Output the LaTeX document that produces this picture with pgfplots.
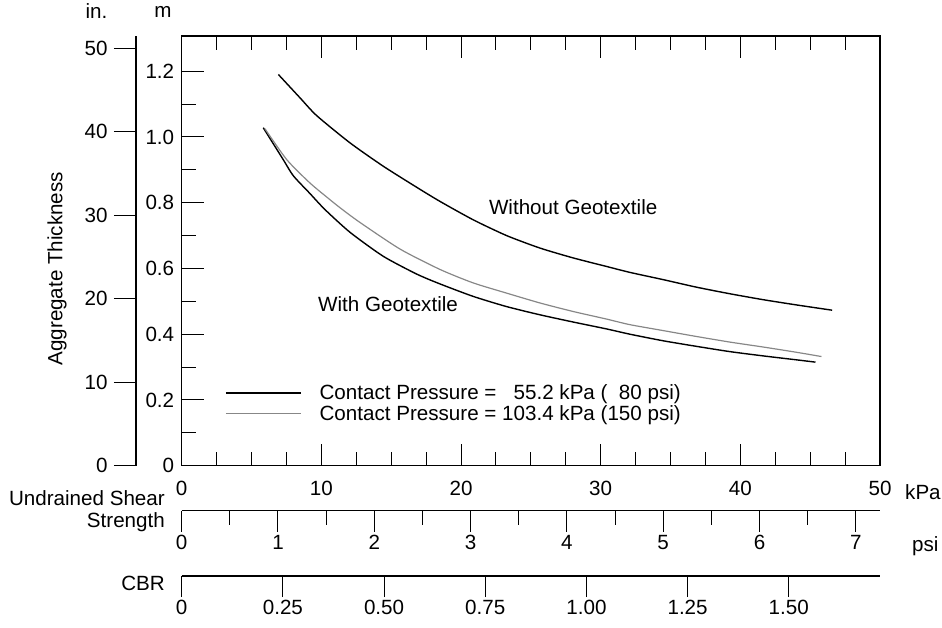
\documentclass[border=0pt]{standalone}
\usepackage{fontspec}
\setmainfont{Liberation Sans}
\usepackage{pgfplots}
\pgfplotsset{compat=1.18}
\definecolor{curvegray}{RGB}{135,135,135}
\newcommand{\fs}{\fontsize{20.6}{22}\selectfont}
\begin{document}
\begin{tikzpicture}[font=\fs]
\useasboundingbox (-181.7pt,-161.3pt) rectangle (760.3pt,465.7pt);
\pgfplotsset{
  every axis/.append style={
    scale only axis,
    font=\fs,
    /pgf/number format/assume math mode=true,
    tick style={black, line width=1pt},
    axis line style={line width=1.3pt},
  },
}
\begin{axis}[
  at={(0pt,0pt)}, anchor=south west,
  width=698.3pt, height=429.7pt,
  xmin=0, xmax=50, ymin=0, ymax=1.307,
  xtick={0,10,20,30,40,50},
  minor x tick num=3,
  ytick={0,0.2,0.4,0.6,0.8,1.0,1.2},
  yticklabels={0,0.2,0.4,0.6,0.8,1.0,1.2},
  minor y tick num=1,
  xtick pos=both, ytick pos=left,
  tick align=inside,
  major tick length=22pt, minor tick length=14pt,
  xticklabel style={yshift=-12pt},
  yticklabel style={xshift=-4pt},
  clip=false,
  legend cell align=left,
  legend style={at={(axis cs:3.1,0.247)}, anchor=north west, draw=none, fill=none,
    inner sep=0pt, row sep=4.5pt, column sep=18pt, nodes={inner sep=0pt}, font=\fs},
  legend image code/.code={\draw[#1] (0pt,0pt) -- (75pt,0pt);},
]
% Without geotextile
\addplot[black, line width=1.4pt, smooth, tension=0.4, forget plot] coordinates {
(6.92,1.190) (8.47,1.119) (9.66,1.065) (12.05,0.982) (14.43,0.911) (16.82,0.847)
(18.49,0.804) (20.87,0.748) (23.26,0.700) (25.65,0.662) (28.03,0.632) (30.42,0.606)
(32.09,0.588) (34.47,0.566) (36.86,0.543) (39.25,0.523) (41.63,0.505) (44.02,0.489)
(46.57,0.473)};
% With geotextile, 80 psi
\addplot[black, line width=1.4pt, smooth, tension=0.4] coordinates {
(5.84,1.028) (7.27,0.931) (7.99,0.882) (9.18,0.828) (10.26,0.779) (12.05,0.710)
(14.43,0.637) (16.82,0.583) (18.49,0.553) (20.87,0.515) (23.26,0.484) (25.65,0.459)
(28.03,0.437) (30.42,0.416) (32.09,0.400) (34.47,0.380) (36.86,0.363) (39.25,0.347)
(41.63,0.334) (44.02,0.322) (45.38,0.315)};
\addlegendentry{Contact Pressure = \phantom{1}55.2 kPa (\phantom{1}80 psi)}
% With geotextile, 150 psi
\addplot[curvegray, line width=1.2pt, smooth, tension=0.4] coordinates {
(5.96,1.025) (7.52,0.931) (9.18,0.860) (10.62,0.809) (11.45,0.781) (12.76,0.740)
(15.63,0.659) (18.49,0.597) (20.87,0.556) (23.26,0.525) (25.65,0.495) (28.03,0.469)
(30.42,0.446) (32.09,0.429) (34.47,0.411) (36.86,0.393) (39.25,0.376) (41.63,0.361)
(44.02,0.345) (45.81,0.332)};
\addlegendentry{Contact Pressure = 103.4 kPa (150 psi)}
\node[anchor=west, inner sep=0pt] at (axis cs:21.99,0.785) {Without Geotextile};
\node[anchor=west, inner sep=0pt] at (axis cs:9.76,0.492) {With Geotextile};
\end{axis}
% inch axis
\begin{axis}[
  at={(-45.7pt,0pt)}, anchor=south west,
  width=10pt, height=429.7pt,
  xmin=0, xmax=1, ymin=0, ymax=51.46,
  hide x axis, axis y line=left, y axis line style={-},
  ytick={0,10,20,30,40,50},
  yticklabel style={xshift=-3pt},
  tick align=outside, major tick length=22pt,
]
\end{axis}
% psi axis
\begin{axis}[
  at={(0pt,-45pt)}, anchor=south west,
  width=698.3pt, height=10pt,
  xmin=0, xmax=7.2516, ymin=0, ymax=1,
  hide y axis, axis x line=bottom, x axis line style={-},
  xtick={0,1,2,3,4,5,6,7},
  minor xtick={0.5,1.5,2.5,3.5,4.5,5.5,6.5},
  tick align=outside, major tick length=21pt, minor tick length=14pt,
]
\end{axis}
% CBR axis
\begin{axis}[
  at={(0pt,-110.3pt)}, anchor=south west,
  width=698.3pt, height=10pt,
  xmin=0, xmax=1.7254, ymin=0, ymax=1,
  hide y axis, axis x line=bottom, x axis line style={-},
  xtick={0,0.25,0.5,0.75,1.0,1.25,1.5},
  xticklabels={0,0.25,0.50,0.75,1.00,1.25,1.50},
  tick align=outside, major tick length=21pt,
]
\end{axis}
\node[anchor=east, align=right, inner sep=0pt] at (-16.7pt,-45.3pt) {Undrained Shear\\Strength};
\node[anchor=east, inner sep=0pt] at (-16.7pt,-117.3pt) {CBR};
\node[anchor=west, inner sep=0pt] at (723.3pt,-26.3pt) {kPa};
\node[anchor=west, inner sep=0pt] at (730.3pt,-80.3pt) {psi};
\node[inner sep=0pt] at (-85.2pt,454.2pt) {in.};
\node[inner sep=0pt] at (-18.7pt,454.2pt) {m};
\node[rotate=90, inner sep=0pt] at (-124.7pt,197pt) {Aggregate Thickness};
\end{tikzpicture}
\end{document}
